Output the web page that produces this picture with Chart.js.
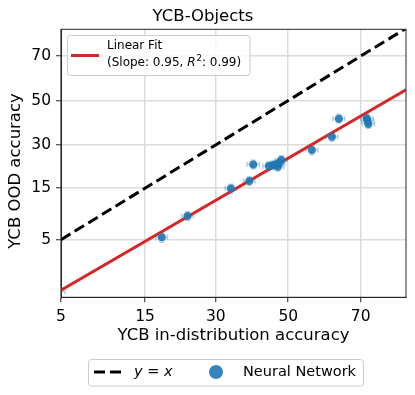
<!DOCTYPE html>
<html>
<head>
<meta charset="utf-8">
<script src="https://cdn.jsdelivr.net/npm/chart.js@4.4.1/dist/chart.umd.min.js"></script>
<style>
    html, body { margin: 0; padding: 0; background: #ffffff; }
    #wrap { width: 415px; height: 395px; }
</style>
</head>
<body>
<div id="wrap"><canvas id="chart"></canvas></div>
<script>
/* ============================================================
   YCB-Objects: in-distribution vs OOD accuracy (probit axes)
   ============================================================ */

// Accuracy (%) per network
const idAcc  = [4.8, 18.0, 23.3, 33.9, 38.9, 40.0, 44.4, 45.5, 46.5, 47.0, 47.3, 48.0, 56.8, 62.4, 64.3, 71.5, 71.7, 71.9];
const oodAcc = [1.2, 5.3, 8.6, 14.9, 17.1, 22.5, 21.9, 22.2, 22.5, 21.7, 22.9, 24.1, 27.9, 33.4, 41.5, 41.7, 40.5, 39.1];
const idErr  = [0.5, 1.1, 1.3, 1.5, 1.6, 1.7, 1.7, 1.7, 1.7, 1.7, 1.7, 1.7, 1.7, 1.6, 1.6, 1.5, 1.5, 1.5];
const oodErr = [0.2, 0.6, 0.8, 1.2, 1.3, 1.5, 1.5, 1.5, 1.5, 1.5, 1.5, 1.6, 1.8, 1.9, 2.0, 2.0, 2.0, 2.0];

// Linear fit (in probit space) and the y = x reference, as end points
const fitX = [5, 80.3];
const fitY = [1.25, 55];
const diagX = [5, 80.3];
const diagY = [5, 80.3];

// Tick labels
const xTicks = [5, 15, 30, 50, 70];
const yTicks = [5, 15, 30, 50, 70];

const colors = {
    blue: 'rgba(31, 119, 180, 0.9)',
    blueLight: 'rgba(31, 119, 180, 0.35)',
    red: '#d62728',
    grid: '#dcdcdc',
    axis: '#262626',
    legendEdge: '#cccccc'
};
const FONT = "'DejaVu Sans', sans-serif";

/**
 * Inverse normal CDF (Acklam's approximation)
 */
function probit(p) {
    const a = [-39.69683028665376, 220.9460984245205, -275.9285104469687, 138.3577518672690, -30.66479806614716, 2.506628277459239];
    const b = [-54.47609879822406, 161.5858368580409, -155.6989798598866, 66.80131188771972, -13.28068155288572];
    const c = [-0.007784894002430293, -0.3223964580411365, -2.400758277161838, -2.549732539343734, 4.374664141464968, 2.938163982698783];
    const d = [0.007784695709041462, 0.3224671290700398, 2.445134137142996, 3.754408661907416];
    const lo = 0.02425;
    if (p < lo) {
        const q = Math.sqrt(-2 * Math.log(p));
        return (((((c[0] * q + c[1]) * q + c[2]) * q + c[3]) * q + c[4]) * q + c[5]) / ((((d[0] * q + d[1]) * q + d[2]) * q + d[3]) * q + 1);
    }
    if (p > 1 - lo) {
        return -probit(1 - p);
    }
    const q = p - 0.5, r = q * q;
    return (((((a[0] * r + a[1]) * r + a[2]) * r + a[3]) * r + a[4]) * r + a[5]) * q / (((((b[0] * r + b[1]) * r + b[2]) * r + b[3]) * r + b[4]) * r + 1);
}

function normCdf(z) {
    // Abramowitz-Stegun erf
    const t = 1 / (1 + 0.3275911 * Math.abs(z) / Math.SQRT2);
    const y = 1 - (((((1.061405429 * t - 1.453152027) * t) + 1.421413741) * t - 0.284496736) * t + 0.254829592) * t * Math.exp(-z * z / 2);
    return z >= 0 ? (1 + y) / 2 : (1 - y) / 2;
}

/**
 * Probit scale: values in percent, spaced by the normal quantile
 */
class ProbitScale extends Chart.LinearScale {
    probitBounds() {
        return [probit(this.min / 100), probit(this.max / 100)];
    }
    getPixelForValue(value) {
        const [a, b] = this.probitBounds();
        return this.getPixelForDecimal((probit(value / 100) - a) / (b - a));
    }
    getValueForPixel(pixel) {
        const [a, b] = this.probitBounds();
        return 100 * normCdf(a + this.getDecimalForPixel(pixel) * (b - a));
    }
}
ProbitScale.id = 'probit';
ProbitScale.defaults = Chart.LinearScale.defaults;
Chart.register(ProbitScale);

/**
 * Error bars, frame, y label and both legends
 */
const decorations = {
    id: 'decorations',
    beforeDatasetsDraw(chart) {
        const { ctx, chartArea: area, scales: { x, y } } = chart;
        ctx.save();
        ctx.beginPath();
        ctx.rect(area.left, area.top, area.right - area.left, area.bottom - area.top);
        ctx.clip();
        ctx.strokeStyle = colors.blueLight;
        ctx.lineWidth = 1.5;
        const cap = 2.5;
        idAcc.forEach((v, i) => {
            const px = x.getPixelForValue(v);
            const py = y.getPixelForValue(oodAcc[i]);
            const x0 = x.getPixelForValue(v - idErr[i]);
            const x1 = x.getPixelForValue(v + idErr[i]);
            const y0 = y.getPixelForValue(oodAcc[i] - oodErr[i]);
            const y1 = y.getPixelForValue(oodAcc[i] + oodErr[i]);
            ctx.beginPath();
            ctx.moveTo(x0, py); ctx.lineTo(x1, py);
            ctx.moveTo(x0, py - cap); ctx.lineTo(x0, py + cap);
            ctx.moveTo(x1, py - cap); ctx.lineTo(x1, py + cap);
            ctx.moveTo(px, y0); ctx.lineTo(px, y1);
            ctx.moveTo(px - cap, y0); ctx.lineTo(px + cap, y0);
            ctx.moveTo(px - cap, y1); ctx.lineTo(px + cap, y1);
            ctx.stroke();
        });
        ctx.restore();
    },
    afterDraw(chart) {
        const { ctx, chartArea: area } = chart;
        ctx.save();

        // frame
        ctx.strokeStyle = colors.axis;
        ctx.lineWidth = 1;
        ctx.strokeRect(area.left, area.top, area.right - area.left, area.bottom - area.top);

        // y axis label (sits a little below the axis centre in the original)
        ctx.save();
        ctx.translate(16, 171);
        ctx.rotate(-Math.PI / 2);
        ctx.fillStyle = '#000';
        ctx.textAlign = 'center';
        ctx.textBaseline = 'middle';
        ctx.font = `16.5px ${FONT}`;
        ctx.fillText('YCB OOD accuracy', 0, 0);
        ctx.restore();

        // upper legend (inside the axes)
        ctx.beginPath();
        ctx.roundRect(67.5, 35.5, 182.5, 40, 3);
        ctx.fillStyle = 'rgba(255,255,255,0.8)';
        ctx.fill();
        ctx.strokeStyle = colors.legendEdge;
        ctx.stroke();

        ctx.strokeStyle = colors.red;
        ctx.lineWidth = 3;
        ctx.beginPath();
        ctx.moveTo(71, 55.5); ctx.lineTo(99, 55.5);
        ctx.stroke();

        ctx.fillStyle = '#000';
        ctx.textBaseline = 'middle';
        ctx.textAlign = 'left';
        ctx.font = `12px ${FONT}`;
        ctx.fillText('Linear Fit', 107, 46);
        let tx = 107;
        const ly = 63;
        const parts = [
            ['(Slope: 0.95, ', `12px ${FONT}`, 0],
            ['R', `italic 12px ${FONT}`, 0],
            ['2', `8.5px ${FONT}`, -4],
            [': 0.99)', `12px ${FONT}`, 0]
        ];
        parts.forEach(([s, f, dy]) => {
            ctx.font = f;
            ctx.fillText(s, tx, ly + dy);
            tx += ctx.measureText(s).width + (s === 'R' ? 1 : 0);
        });

        // lower legend (below the axes)
        ctx.beginPath();
        ctx.roundRect(88.5, 359.5, 275, 26.5, 3);
        ctx.fillStyle = '#ffffff';
        ctx.fill();
        ctx.strokeStyle = colors.legendEdge;
        ctx.lineWidth = 1;
        ctx.stroke();

        ctx.strokeStyle = '#000';
        ctx.lineWidth = 3;
        ctx.setLineDash([11, 5]);
        ctx.beginPath();
        ctx.moveTo(94, 372); ctx.lineTo(124, 372);
        ctx.stroke();
        ctx.setLineDash([]);

        ctx.fillStyle = '#000';
        tx = 134;
        [['y', `italic 14.5px ${FONT}`], [' = ', `14.5px ${FONT}`], ['x', `italic 14.5px ${FONT}`]].forEach(([s, f]) => {
            ctx.font = f;
            ctx.fillText(s, tx, 372);
            tx += ctx.measureText(s).width;
        });

        ctx.fillStyle = colors.blue;
        ctx.beginPath();
        ctx.arc(216, 372, 7, 0, Math.PI * 2);
        ctx.fill();

        ctx.fillStyle = '#000';
        ctx.font = `14.5px ${FONT}`;
        ctx.fillText('Neural Network', 243, 372);

        ctx.restore();
    }
};

const axisBase = (min, max, ticks, title, titlePadding) => ({
    type: 'probit',
    min,
    max,
    bounds: 'data',
    afterBuildTicks: (scale) => { scale.ticks = ticks.map(v => ({ value: v })); },
    grid: {
        color: colors.grid,
        lineWidth: 1.5,
        tickColor: colors.axis,
        tickLength: 5,
        tickWidth: 1
    },
    border: { display: true, color: colors.axis, width: 1 },
    ticks: {
        color: '#000',
        padding: 5,
        maxRotation: 0,
        autoSkip: false,
        font: { family: FONT, size: 15.5 },
        callback: (v) => String(v)
    },
    title: {
        display: title !== '',
        text: title,
        color: '#000',
        font: { family: FONT, size: 16.5 },
        padding: titlePadding
    }
});

const xAxis = axisBase(5, 80.3, xTicks, 'YCB in-distribution accuracy', { top: 0, bottom: 2 });
xAxis.afterFit = (scale) => { scale.height = 50; };
const yAxis = axisBase(1.0, 80, yTicks, '', { top: 0, bottom: 0 });
yAxis.afterFit = (scale) => { scale.width = 61; };

new Chart(document.getElementById('chart'), {
    type: 'scatter',
    data: {
        datasets: [
            {
                label: 'Neural Network',
                data: idAcc.map((v, i) => ({ x: v, y: oodAcc[i] })),
                backgroundColor: colors.blue,
                borderWidth: 0,
                pointRadius: 4,
                clip: 0
            },
            {
                label: 'Linear Fit',
                data: fitX.map((v, i) => ({ x: v, y: fitY[i] })),
                showLine: true,
                borderColor: colors.red,
                borderWidth: 3,
                pointRadius: 0,
                clip: 0
            },
            {
                label: 'y = x',
                data: diagX.map((v, i) => ({ x: v, y: diagY[i] })),
                showLine: true,
                borderColor: '#000',
                borderWidth: 3,
                borderDash: [11, 5],
                pointRadius: 0,
                clip: 0
            }
        ]
    },
    options: {
        responsive: true,
        maintainAspectRatio: false,
        animation: false,
        layout: { padding: { top: 0, right: 9, bottom: 47.7, left: 0 } },
        plugins: {
            legend: { display: false },
            tooltip: { enabled: false },
            title: {
                display: true,
                text: 'YCB-Objects',
                color: '#000',
                font: { family: FONT, size: 16.5, weight: 'normal' },
                padding: { top: 6.5, bottom: 3 }
            }
        },
        scales: { x: xAxis, y: yAxis }
    },
    plugins: [decorations]
});
</script>
</body>
</html>
